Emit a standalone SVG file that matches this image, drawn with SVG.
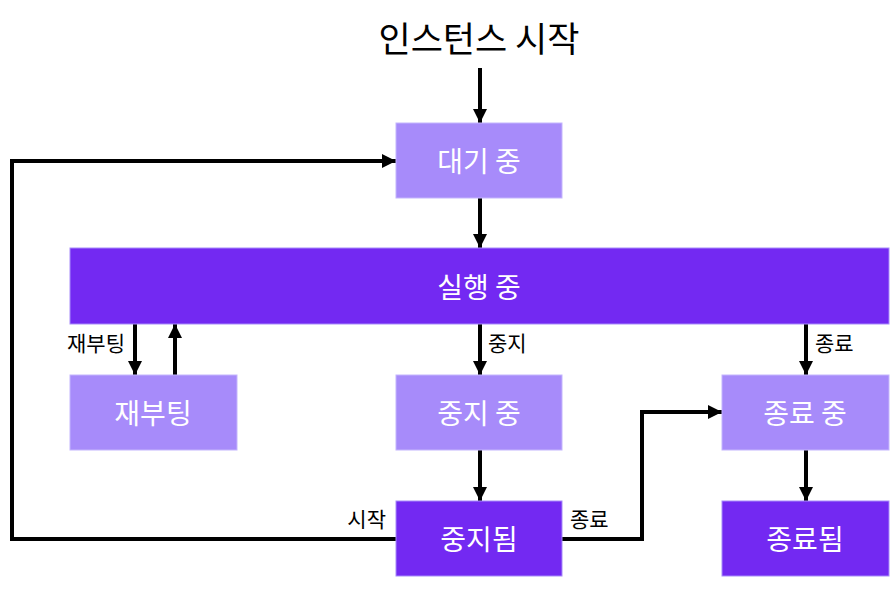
<svg xmlns="http://www.w3.org/2000/svg" width="896" height="602" viewBox="0 0 896 602">
<defs>
<style>
text{font-family:"Noto Sans CJK KR","Noto Sans",sans-serif}
.light{fill:#A78BFA;stroke:#C4B5FD;stroke-width:1}
.dark{fill:#7329F2;stroke:#A78BFA;stroke-width:1}
.nl{fill:#fff;font-size:28px;text-anchor:middle;dominant-baseline:central}
.el{fill:#000;font-size:21px}
.c{fill:none;stroke:#000;stroke-width:4;marker-end:url(#ah)}
</style>
<marker id="ah" viewBox="0 0 10 10" refX="10" refY="5" markerWidth="3.6" markerHeight="3.6" orient="auto" markerUnits="strokeWidth">
<path d="M0,0 L10,5 L0,10 z" fill="#000"/>
</marker>
</defs>
<rect width="896" height="602" fill="#fff"/>
<text x="479" y="52" font-size="35" text-anchor="middle" fill="#000">인스턴스 시작</text>
<g id="connectors">
<path class="c" d="M480,68 V123"/>
<path class="c" d="M480,198 V248"/>
<path class="c" d="M135,324 V375"/>
<path class="c" d="M175,375 V324"/>
<path class="c" d="M480,324 V375"/>
<path class="c" d="M806,324 V375"/>
<path class="c" d="M480,450 V501"/>
<path class="c" d="M806,450 V501"/>
<path class="c" d="M562,539 H642 V412 H722"/>
<path class="c" d="M396,539 H12 V161 H396"/>
<text class="el" x="125" y="351" text-anchor="end">재부팅</text>
<text class="el" x="488" y="351">중지</text>
<text class="el" x="815" y="351">종료</text>
<text class="el" x="570" y="527">종료</text>
<text class="el" x="386" y="527" text-anchor="end">시작</text>
</g>
<g id="waiting"><rect class="light" x="396" y="123" width="166" height="75"/><text class="nl" x="479" y="160">대기 중</text></g>
<g id="running"><rect class="dark" x="70" y="248" width="819" height="76"/><text class="nl" x="479" y="286">실행 중</text></g>
<g id="rebooting"><rect class="light" x="70" y="375" width="167" height="75"/><text class="nl" x="153" y="412">재부팅</text></g>
<g id="stopping"><rect class="light" x="396" y="375" width="166" height="75"/><text class="nl" x="479" y="412">중지 중</text></g>
<g id="shutting-down"><rect class="light" x="722" y="375" width="167" height="75"/><text class="nl" x="805" y="412">종료 중</text></g>
<g id="stopped"><rect class="dark" x="396" y="501" width="166" height="75"/><text class="nl" x="479" y="538">중지됨</text></g>
<g id="terminated"><rect class="dark" x="722" y="501" width="167" height="75"/><text class="nl" x="805" y="538">종료됨</text></g>
</svg>
